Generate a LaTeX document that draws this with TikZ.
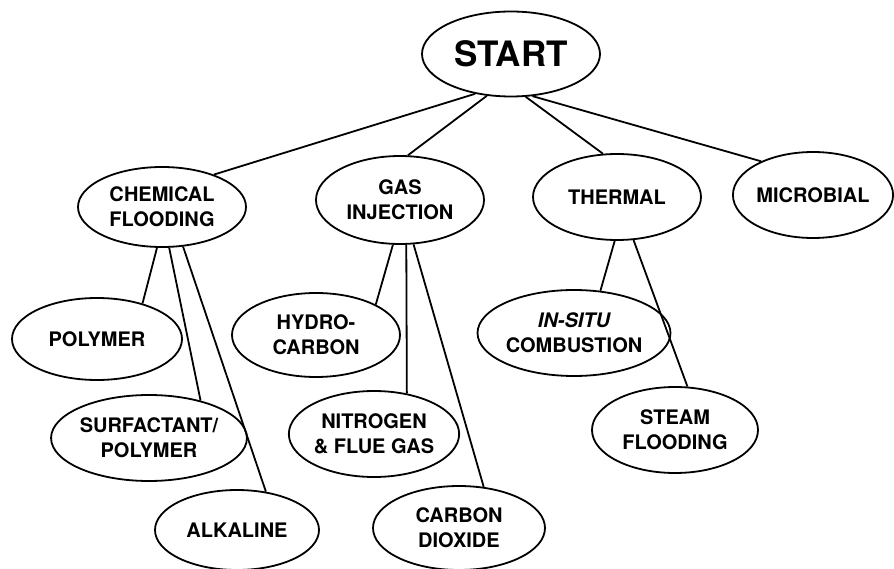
\documentclass[tikz,border=0pt]{standalone}
\usepackage{fontspec}
\setsansfont{TeX Gyre Heros}
\usetikzlibrary{shapes.geometric}

\begin{document}
\begin{tikzpicture}[x=1pt,y=-1pt,
	bubble/.style={draw,ellipse,line width=1.8pt,inner sep=0pt,
		minimum width=168pt,minimum height=85pt,align=center,
		font=\sffamily\bfseries\fontsize{20}{25}\selectfont},
	branch/.style={line width=1.8pt}]

	\useasboundingbox (0,0) rectangle (894,569);

	% Top of the tree
	\node[bubble,minimum width=178pt,font=\sffamily\bfseries\fontsize{35}{38}\selectfont] (start) at (511,54) {START};

	% The four main methods
	\node[bubble,minimum height=80pt] (chem) at (162,207) {CHEMICAL\\FLOODING};
	\node[bubble,minimum height=88pt] (gas) at (400,200) {GAS\\INJECTION};
	\node[bubble,minimum height=86pt] (thermal) at (617,197) {THERMAL};
	\node[bubble,minimum width=160pt,minimum height=86pt] (micro) at (813,195) {MICROBIAL};

	% Chemical flooding branches
	\node[bubble,minimum width=170pt,minimum height=82pt] (polymer) at (97,339) {POLYMER};
	\node[bubble,minimum height=86pt] (surf) at (149,438) {SURFACTANT/\\POLYMER};
	\node[bubble,minimum width=164pt,minimum height=80pt] (alk) at (237,530) {ALKALINE};

	% Gas injection branches
	\node[bubble,minimum height=84pt] (hydro) at (316,335) {HYDRO-\\CARBON};
	\node[bubble,minimum height=86pt] (nitro) at (374,434) {NITROGEN\\\& FLUE GAS};
	\node[bubble,minimum width=172pt,minimum height=84pt] (co2) at (459,528) {CARBON\\DIOXIDE};

	% Thermal branches
	\node[bubble,minimum height=86pt] (insitu) at (574,333) {\itshape IN-SITU\\COMBUSTION};
	\node[bubble,minimum width=166pt,minimum height=86pt] (steam) at (675,430) {STEAM\\FLOODING};

	% Lines from the start
	\draw[branch] (start.-132) -- (chem.32);
	\draw[branch] (start.-120) -- (gas.80);
	\draw[branch] (start.-71) -- (thermal.108);
	\draw[branch] (start.-63) -- (micro.147);

	% Lines under chemical flooding
	\draw[branch] (chem.-97) -- (polymer.38);
	\draw[branch] (chem.-80) -- (surf.36);
	\draw[branch] (chem.-62) -- (alk.53);

	% Lines under gas injection
	\draw[branch] (gas.-99) -- (hydro.27);
	\draw[branch] (gas.-82) -- (nitro.51);
	\draw[branch] (gas.-73) -- (co2.59);

	% Lines under thermal
	\draw[branch] (thermal.-93) -- (insitu.58);
	\draw[branch] (thermal.-69) -- (steam.74);

\end{tikzpicture}
\end{document}
